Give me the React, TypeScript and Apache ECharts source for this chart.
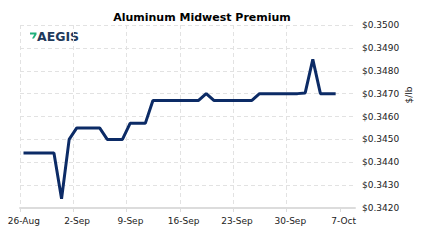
import React, { useEffect, useRef } from "react";
import * as echarts from "echarts";

const title = "Aluminum Midwest Premium";
const unitLabel = "$/lb";
const logoText = "AEGIS";

const dates = [
  "2019-08-26", "2019-08-27", "2019-08-28", "2019-08-29", "2019-08-30", "2019-08-31",
  "2019-09-01", "2019-09-02", "2019-09-03", "2019-09-04", "2019-09-05", "2019-09-06",
  "2019-09-07", "2019-09-08", "2019-09-09", "2019-09-10", "2019-09-11", "2019-09-12",
  "2019-09-13", "2019-09-14", "2019-09-15", "2019-09-16", "2019-09-17", "2019-09-18",
  "2019-09-19", "2019-09-20", "2019-09-21", "2019-09-22", "2019-09-23", "2019-09-24",
  "2019-09-25", "2019-09-26", "2019-09-27", "2019-09-28", "2019-09-29", "2019-09-30",
  "2019-10-01", "2019-10-02", "2019-10-03", "2019-10-04", "2019-10-05", "2019-10-06",
];
const prices = [
  0.3444, 0.3444, 0.3444, 0.3444, 0.3444, 0.3424,
  0.3450, 0.3455, 0.3455, 0.3455, 0.3455, 0.3450,
  0.3450, 0.3450, 0.3457, 0.3457, 0.3457, 0.3467,
  0.3467, 0.3467, 0.3467, 0.3467, 0.3467, 0.3467,
  0.3470, 0.3467, 0.3467, 0.3467, 0.3467, 0.3467,
  0.3467, 0.3470, 0.3470, 0.3470, 0.3470, 0.3470,
  0.3470, 0.34703, 0.3485, 0.3470, 0.3470, 0.3470,
];
const tickDates = ["2019-08-26", "2019-09-02", "2019-09-09", "2019-09-16", "2019-09-23", "2019-09-30", "2019-10-07"];
const xRange = ["2019-08-26", "2019-10-09"];
const yMin = 0.342;
const yMax = 0.35;
const yStep = 0.001;

const MONTHS = ["Jan", "Feb", "Mar", "Apr", "May", "Jun", "Jul", "Aug", "Sep", "Oct", "Nov", "Dec"];
const HOUR = 3600000;
const ts = (s: string) => Date.parse(s + "T00:00:00Z");
const fmtDate = (v: number) => {
  const d = new Date(v);
  return d.getUTCDate() + "-" + MONTHS[d.getUTCMonth()];
};

export default function App() {
  const ref = useRef<HTMLDivElement>(null);
  useEffect(() => {
    if (!ref.current) return;
    const chart = echarts.init(ref.current, undefined, { renderer: "svg" });
    const font = "DejaVu Sans";
    const tickVals = tickDates.map(ts);
    const labelVals = tickDates.map((s) => ts(s) + 12 * HOUR);
    chart.setOption({
      animation: false,
      backgroundColor: "#ffffff",
      title: {
        text: title,
        left: 197,
        top: 7,
        textAlign: "center",
        textStyle: { fontFamily: font, fontSize: 11, fontWeight: "bold", color: "#000000" },
      },
      grid: { left: 20, right: 68, top: 25, bottom: 43, containLabel: false },
      xAxis: {
        type: "value",
        min: ts(xRange[0]),
        max: ts(xRange[1]),
        axisLine: { show: true, lineStyle: { color: "#dcdcdc", width: 2 } },
        axisTick: {
          show: true,
          length: 4,
          customValues: tickVals,
          lineStyle: { color: "#dcdcdc", width: 1 },
        },
        splitLine: {
          show: true,
          showMaxLine: false,
          lineStyle: { color: "#e2e2e2", type: [4, 3], width: 1 },
        },
        axisLabel: {
          customValues: labelVals,
          formatter: (v: number) => fmtDate(v - 12 * HOUR),
          fontFamily: font,
          fontSize: 9,
          color: "#222222",
          margin: 8,
        },
      },
      yAxis: {
        type: "value",
        position: "right",
        min: yMin,
        max: yMax,
        interval: yStep,
        axisLine: { show: false },
        axisTick: { show: false },
        splitLine: { show: true, lineStyle: { color: "#e2e2e2", type: [4, 3], width: 1 } },
        axisLabel: {
          formatter: (v: number) => "$" + v.toFixed(4),
          fontFamily: font,
          fontSize: 9,
          color: "#222222",
          margin: 7,
        },
      },
      series: [
        {
          type: "line",
          data: dates.map((d, i) => [ts(d) + 11 * HOUR, prices[i]]),
          showSymbol: false,
          symbol: "none",
          lineStyle: { color: "#0c2b66", width: 3 },
          z: 5,
        },
      ],
      graphic: [
        {
          type: "text",
          x: 409,
          y: 95,
          rotation: Math.PI / 2,
          style: {
            text: unitLabel,
            fontFamily: font,
            fontSize: 9,
            fill: "#222222",
            align: "center",
            verticalAlign: "middle",
          },
        },
        {
          type: "polygon",
          shape: { points: [[30, 32.5], [36.5, 32.5], [36.5, 34.5], [34, 38.5], [32, 38.5], [34.3, 34.6], [30, 34.6]] },
          style: { fill: "#21b07a" },
        },
        {
          type: "text",
          x: 37,
          y: 36.5,
          style: {
            text: logoText,
            fontFamily: font,
            fontSize: 12.5,
            fontWeight: "bold",
            fill: "#1f3a5c",
            verticalAlign: "middle",
          },
        },
      ],
    });
    return () => chart.dispose();
  }, []);
  return <div ref={ref} style={{ position: "fixed", left: 0, top: 0, width: 423, height: 251 }} />;
}
